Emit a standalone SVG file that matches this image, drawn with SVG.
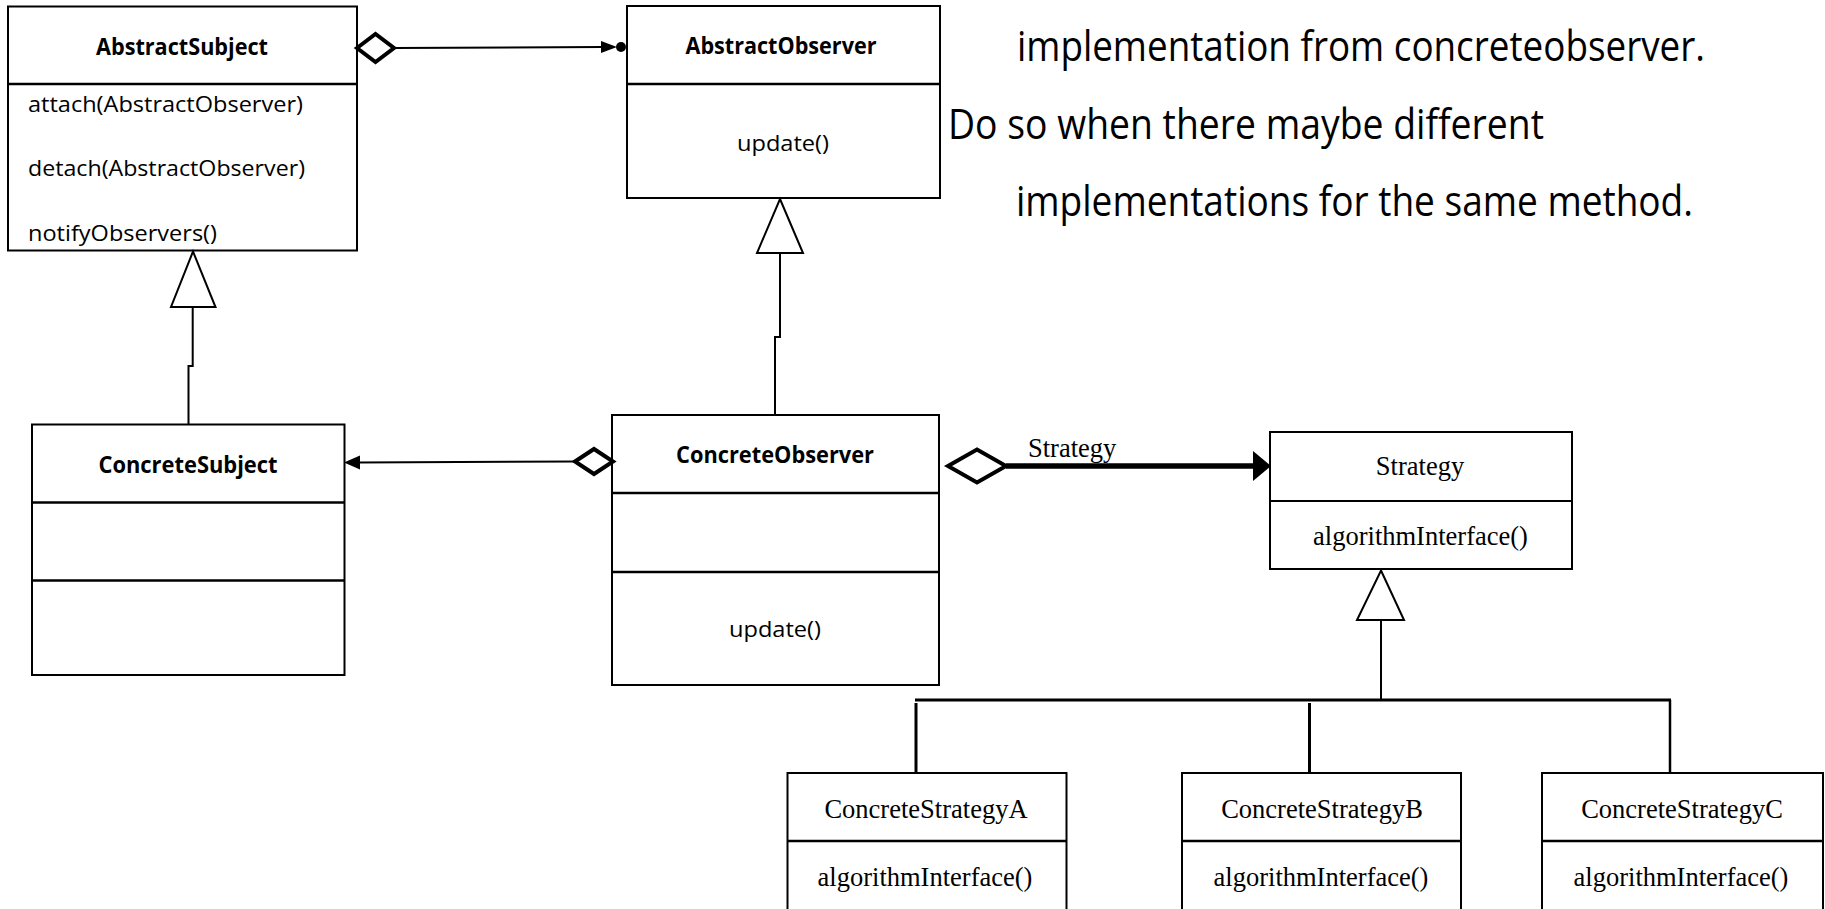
<svg xmlns="http://www.w3.org/2000/svg" width="1825" height="909" viewBox="0 0 1825 909">
<style>
.box{fill:#fff;stroke:#000;stroke-width:2}
.dv{stroke:#000;stroke-width:2.5}
.sans{font-family:"Open Sans","Liberation Sans",sans-serif;fill:#000;font-size:22px}
.b{font-weight:bold;font-size:22.5px}
.big{font-family:"Open Sans","Liberation Sans",sans-serif;fill:#000;font-size:42px}
.serif{font-family:"Liberation Serif","Times New Roman",serif;fill:#000;font-size:26.5px}
.ln{stroke:#000;stroke-width:2;fill:none}
.dia{fill:#fff;stroke:#000;stroke-width:4}
.tri{fill:#fff;stroke:#000;stroke-width:2}
.fill{fill:#000;stroke:none}
</style>
<rect width="1825" height="909" fill="#fff"/>

<g id="AbstractSubject">
<rect class="box" x="8" y="6.5" width="349" height="244"/>
<line class="dv" x1="8" y1="84" x2="357" y2="84"/>
<text class="sans b" x="182" y="55" text-anchor="middle" textLength="172" lengthAdjust="spacingAndGlyphs">AbstractSubject</text>
<text class="sans" x="28" y="112" textLength="275" lengthAdjust="spacingAndGlyphs">attach(AbstractObserver)</text>
<text class="sans" x="28" y="176" textLength="277" lengthAdjust="spacingAndGlyphs">detach(AbstractObserver)</text>
<text class="sans" x="28" y="241" textLength="189" lengthAdjust="spacingAndGlyphs">notifyObservers()</text>
</g>

<g id="AbstractObserver">
<rect class="box" x="627" y="6" width="313" height="192"/>
<line class="dv" x1="627" y1="84" x2="940" y2="84"/>
<text class="sans b" x="781" y="54" text-anchor="middle" textLength="191" lengthAdjust="spacingAndGlyphs">AbstractObserver</text>
<text class="sans" x="783" y="151" text-anchor="middle" textLength="92" lengthAdjust="spacingAndGlyphs">update()</text>
</g>

<g id="Note">
<text class="big" x="1017" y="61" textLength="688" lengthAdjust="spacingAndGlyphs">implementation from concreteobserver.</text>
<text class="big" x="948" y="139" textLength="596" lengthAdjust="spacingAndGlyphs">Do so when there maybe different</text>
<text class="big" x="1016" y="216" textLength="677" lengthAdjust="spacingAndGlyphs">implementations for the same method.</text>
</g>

<g id="ConcreteSubject">
<rect class="box" x="32" y="424.5" width="312.5" height="250.5"/>
<line class="dv" x1="32" y1="502.5" x2="344.5" y2="502.5"/>
<line class="dv" x1="32" y1="580.5" x2="344.5" y2="580.5"/>
<text class="sans b" x="188" y="473" text-anchor="middle" textLength="179" lengthAdjust="spacingAndGlyphs">ConcreteSubject</text>
</g>

<g id="ConcreteObserver">
<rect class="box" x="612" y="415" width="327" height="270"/>
<line class="dv" x1="612" y1="493" x2="939" y2="493"/>
<line class="dv" x1="612" y1="572" x2="939" y2="572"/>
<text class="sans b" x="775" y="463" text-anchor="middle" textLength="198" lengthAdjust="spacingAndGlyphs">ConcreteObserver</text>
<text class="sans" x="775" y="637" text-anchor="middle" textLength="92" lengthAdjust="spacingAndGlyphs">update()</text>
</g>

<g id="Strategy">
<rect class="box" x="1270" y="432" width="302" height="137"/>
<line class="ln" x1="1270" y1="501" x2="1572" y2="501"/>
<text class="serif" x="1420" y="475" text-anchor="middle">Strategy</text>
<text class="serif" x="1420.5" y="545" text-anchor="middle">algorithmInterface()</text>
</g>

<g id="ConcreteStrategyA">
<rect class="box" x="787.5" y="773" width="279" height="160"/>
<line class="dv" x1="787.5" y1="841" x2="1066.5" y2="841"/>
<text class="serif" x="926" y="818" text-anchor="middle">ConcreteStrategyA</text>
<text class="serif" x="925" y="886" text-anchor="middle">algorithmInterface()</text>
</g>

<g id="ConcreteStrategyB">
<rect class="box" x="1182" y="773" width="279" height="160"/>
<line class="dv" x1="1182" y1="841" x2="1461" y2="841"/>
<text class="serif" x="1322" y="818" text-anchor="middle">ConcreteStrategyB</text>
<text class="serif" x="1321" y="886" text-anchor="middle">algorithmInterface()</text>
</g>

<g id="ConcreteStrategyC">
<rect class="box" x="1542" y="773" width="281" height="160"/>
<line class="dv" x1="1542" y1="841" x2="1823" y2="841"/>
<text class="serif" x="1682" y="818" text-anchor="middle">ConcreteStrategyC</text>
<text class="serif" x="1681" y="886" text-anchor="middle">algorithmInterface()</text>
</g>

<g id="connectors">
<line class="ln" x1="394" y1="48" x2="603" y2="47"/>
<polygon class="dia" points="357,48 375.5,34 394,48 375.5,62"/>
<polygon class="fill" points="601,41 617,47 601,53"/>
<circle class="fill" cx="621" cy="47" r="5"/>
<line class="ln" x1="575" y1="461.5" x2="358" y2="462.5"/>
<polygon class="dia" points="575,461.5 594,449 613,461.5 594,474"/>
<polygon class="fill" points="344,462.5 360,455.5 360,469.5"/>
<line x1="1006" y1="466" x2="1256" y2="466" stroke="#000" stroke-width="5.5"/>
<polygon class="dia" points="948,466 977,449.5 1006,466 977,482.5" stroke-width="5"/>
<polygon class="fill" points="1253,451 1271,466 1253,481"/>
<text class="serif" x="1028" y="457" font-size="26">Strategy</text>
<path class="ln" d="M188.5,424 V366 H192.7 V307"/>
<polygon class="tri" points="193,251.5 215.5,307 171,307"/>
<path class="ln" d="M775,415 V337 H780 V253"/>
<polygon class="tri" points="780,199 803,253 757,253"/>
<polygon class="tri" points="1381,570.5 1404,620 1357,620"/>
<line class="ln" x1="1381" y1="620" x2="1381" y2="700"/>
<line x1="915" y1="700" x2="1671" y2="700" stroke="#000" stroke-width="3"/>
<line x1="916" y1="703" x2="916" y2="773" stroke="#000" stroke-width="3"/>
<line x1="1309.5" y1="703" x2="1309.5" y2="773" stroke="#000" stroke-width="3"/>
<line x1="1670" y1="700" x2="1670" y2="773" stroke="#000" stroke-width="2.5"/>
</g>
</svg>
